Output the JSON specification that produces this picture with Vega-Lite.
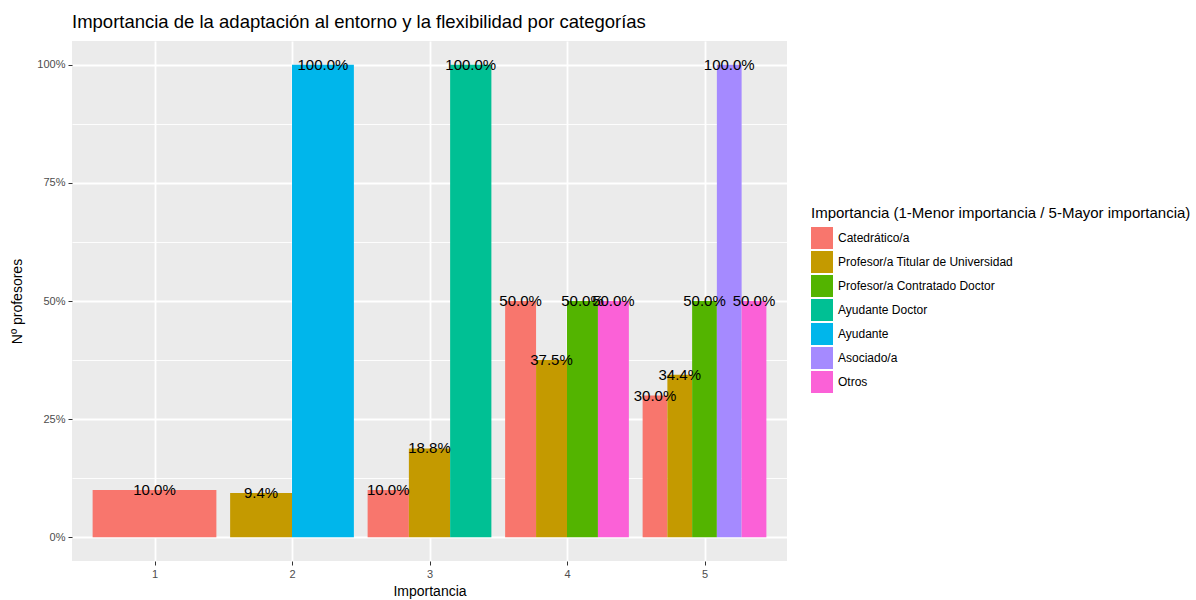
{
  "$schema": "https://vega.github.io/schema/vega-lite/v6.json",
  "width": 715,
  "height": 520,
  "autosize": {"type": "none"},
  "padding": {"left": 72, "top": 41, "right": 409, "bottom": 39},
  "background": "white",
  "title": {
    "text": "Importancia de la adaptación al entorno y la flexibilidad por categorías",
    "anchor": "start",
    "frame": "group",
    "fontSize": 18.5,
    "fontWeight": "normal",
    "font": "Liberation Sans",
    "color": "#000000",
    "offset": 10
  },
  "config": {
    "font": "Liberation Sans",
    "view": {"fill": "#EBEBEB", "stroke": null}
  },
  "data": {
    "values": [
      {"imp": 1, "cat": "Catedrático/a", "pct": 0.10},
      {"imp": 2, "cat": "Profesor/a Titular de Universidad", "pct": 0.094},
      {"imp": 2, "cat": "Ayudante", "pct": 1.0},
      {"imp": 3, "cat": "Catedrático/a", "pct": 0.10},
      {"imp": 3, "cat": "Profesor/a Titular de Universidad", "pct": 0.188},
      {"imp": 3, "cat": "Ayudante Doctor", "pct": 1.0},
      {"imp": 4, "cat": "Catedrático/a", "pct": 0.50},
      {"imp": 4, "cat": "Profesor/a Titular de Universidad", "pct": 0.375},
      {"imp": 4, "cat": "Profesor/a Contratado Doctor", "pct": 0.50},
      {"imp": 4, "cat": "Otros", "pct": 0.50},
      {"imp": 5, "cat": "Catedrático/a", "pct": 0.30},
      {"imp": 5, "cat": "Profesor/a Titular de Universidad", "pct": 0.344},
      {"imp": 5, "cat": "Profesor/a Contratado Doctor", "pct": 0.50},
      {"imp": 5, "cat": "Asociado/a", "pct": 1.0},
      {"imp": 5, "cat": "Otros", "pct": 0.50}
    ]
  },
  "transform": [
    {"calculate": "indexof(['Catedrático/a','Profesor/a Titular de Universidad','Profesor/a Contratado Doctor','Ayudante Doctor','Ayudante','Asociado/a','Otros'], datum.cat)", "as": "ord"},
    {"window": [{"op": "row_number", "as": "rank"}], "groupby": ["imp"], "sort": [{"field": "ord"}]},
    {"joinaggregate": [{"op": "count", "as": "n"}], "groupby": ["imp"]},
    {"calculate": "datum.imp - 0.45 + (datum.rank - 1) * 0.9 / datum.n", "as": "x0"},
    {"calculate": "datum.x0 + 0.9 / datum.n", "as": "x1"},
    {"calculate": "(datum.x0 + datum.x1) / 2", "as": "xm"}
  ],
  "encoding": {
    "y": {
      "field": "pct",
      "type": "quantitative",
      "scale": {"domain": [-0.05, 1.05], "nice": false, "zero": false},
      "axis": {
        "title": "Nº profesores",
        "titleFontSize": 14,
        "titleFontWeight": "normal",
        "titleColor": "#000000",
        "titlePadding": 12,
        "values": [0, 0.125, 0.25, 0.375, 0.5, 0.625, 0.75, 0.875, 1],
        "labelExpr": "abs(datum.value*4 - round(datum.value*4)) < 0.01 ? format(datum.value, '.0%') : ''",
        "labelFontSize": 11,
        "labelColor": "#4D4D4D",
        "labelPadding": 3,
        "domain": false,
        "tickColor": "#333333",
        "tickSize": 4,
        "tickOpacity": {"condition": {"test": "abs(datum.value*4 - round(datum.value*4)) < 0.01", "value": 1}, "value": 0},
        "grid": true,
        "gridColor": "#FFFFFF",
        "gridWidth": {"condition": {"test": "abs(datum.value*4 - round(datum.value*4)) < 0.01", "value": 1.8}, "value": 0.9}
      }
    }
  },
  "layer": [
    {
      "mark": {"type": "bar"},
      "encoding": {
        "x": {
          "field": "x0",
          "type": "quantitative",
          "scale": {"domain": [0.4, 5.6], "nice": false, "zero": false},
          "axis": {
            "title": "Importancia",
            "titleFontSize": 14,
            "titleFontWeight": "normal",
            "titleColor": "#000000",
            "titlePadding": 5,
            "values": [1, 2, 3, 4, 5],
            "format": "d",
            "labelFontSize": 11,
            "labelColor": "#4D4D4D",
            "labelPadding": 3,
            "domain": false,
            "tickColor": "#333333",
            "tickSize": 4,
            "grid": true,
            "gridColor": "#FFFFFF",
            "gridWidth": 1.8
          }
        },
        "x2": {"field": "x1"},
        "y2": {"datum": 0},
        "color": {
          "field": "cat",
          "type": "nominal",
          "scale": {
            "domain": ["Catedrático/a", "Profesor/a Titular de Universidad", "Profesor/a Contratado Doctor", "Ayudante Doctor", "Ayudante", "Asociado/a", "Otros"],
            "range": ["#F8766D", "#C49A00", "#53B400", "#00C094", "#00B6EB", "#A58AFF", "#FB61D7"]
          },
          "legend": {
            "title": "Importancia (1-Menor importancia / 5-Mayor importancia)",
            "orient": "none",
            "legendX": 739,
            "legendY": 165,
            "titleFontSize": 15,
            "titleFontWeight": "normal",
            "titleColor": "#000000",
            "titlePadding": 6,
            "titleLimit": 0,
            "labelLimit": 0,
            "labelFontSize": 12,
            "labelColor": "#000000",
            "labelOffset": 5,
            "symbolType": "square",
            "symbolSize": 484,
            "symbolStrokeWidth": 0,
            "symbolOpacity": 1,
            "rowPadding": 2
          }
        }
      }
    },
    {
      "mark": {"type": "text", "fontSize": 15, "color": "#000000", "baseline": "middle", "align": "center"},
      "encoding": {
        "x": {"field": "xm", "type": "quantitative"},
        "text": {"field": "pct", "type": "quantitative", "format": ".1%"}
      }
    }
  ]
}
